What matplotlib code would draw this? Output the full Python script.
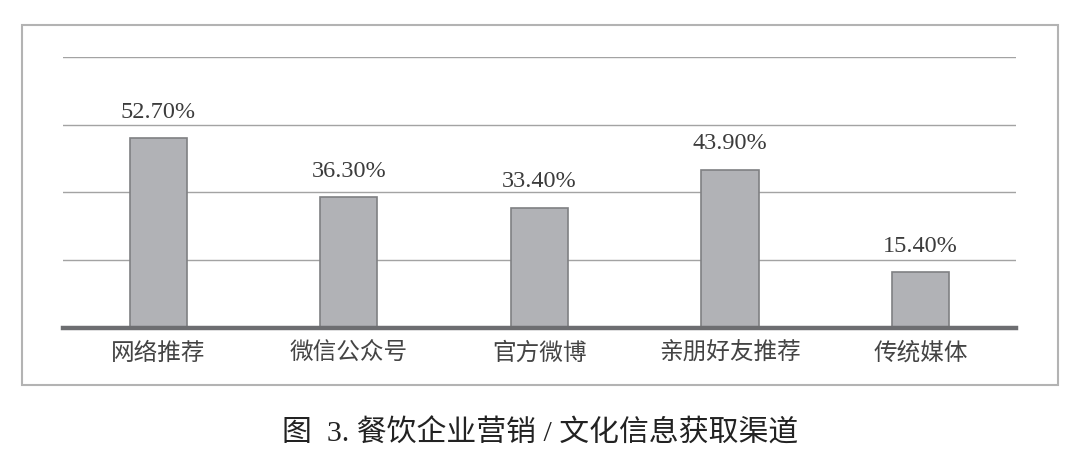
import numpy as np
import matplotlib.pyplot as plt
from matplotlib.patches import Rectangle

# channel data
channels = ['网络推荐', '微信公众号', '官方微博', '亲朋好友推荐', '传统媒体']
shares = [52.7, 36.3, 33.4, 43.9, 15.4]
share_labels = ['52.70%', '36.30%', '33.40%', '43.90%', '15.40%']
title = '图  3. 餐饮企业营销 / 文化信息获取渠道'

fig = plt.figure(figsize=(10.8, 4.73), dpi=100)
ax = fig.add_axes([0.0583, 0.3066, 0.8824, 0.5734])

x = np.arange(len(channels))
bars = ax.bar(x, shares, width=0.30, color='#b1b2b6', edgecolor='#7f8083',
              linewidth=1.2, zorder=3)

ax.set_xlim(-0.5, len(channels) - 0.5)
ax.set_ylim(0, 75.2)
ax.set_yticks([18.8, 37.6, 56.4, 75.2])
ax.yaxis.grid(True, color='#a3a3a3', linewidth=1.0, zorder=0)
ax.tick_params(axis='y', length=0, labelleft=False)
ax.tick_params(axis='x', length=0, pad=10)

for s in ['top', 'right', 'left']:
    ax.spines[s].set_visible(False)
ax.spines['bottom'].set_color('#6d6e71')
ax.spines['bottom'].set_linewidth(3.2)
ax.spines['bottom'].set_zorder(4)

ax.set_xticks(x)
ax.set_xticklabels(channels, fontsize=17, color='#444444',
                   family=['Noto Sans CJK SC', 'DejaVu Sans'])

for b, lab in zip(bars, share_labels):
    ax.annotate(lab, (b.get_x() + b.get_width() / 2, b.get_height()),
                xytext=(0, 11), textcoords='offset points', ha='center',
                va='bottom', fontsize=17.5, color='#3c3c3c',
                family='Liberation Serif')

# frame around the chart
fig.patches.append(Rectangle((22 / 1080, 1 - 385 / 473), 1036 / 1080, 360 / 473,
                             transform=fig.transFigure, fill=False,
                             edgecolor='#b3b3b3', linewidth=1.5))

fig.text(0.5, 1 - 433 / 473, title, ha='center', va='center', fontsize=21.5,
         color='#222222', family=['Liberation Serif', 'Noto Sans CJK SC'])

fig.savefig('out.png', dpi=100)
